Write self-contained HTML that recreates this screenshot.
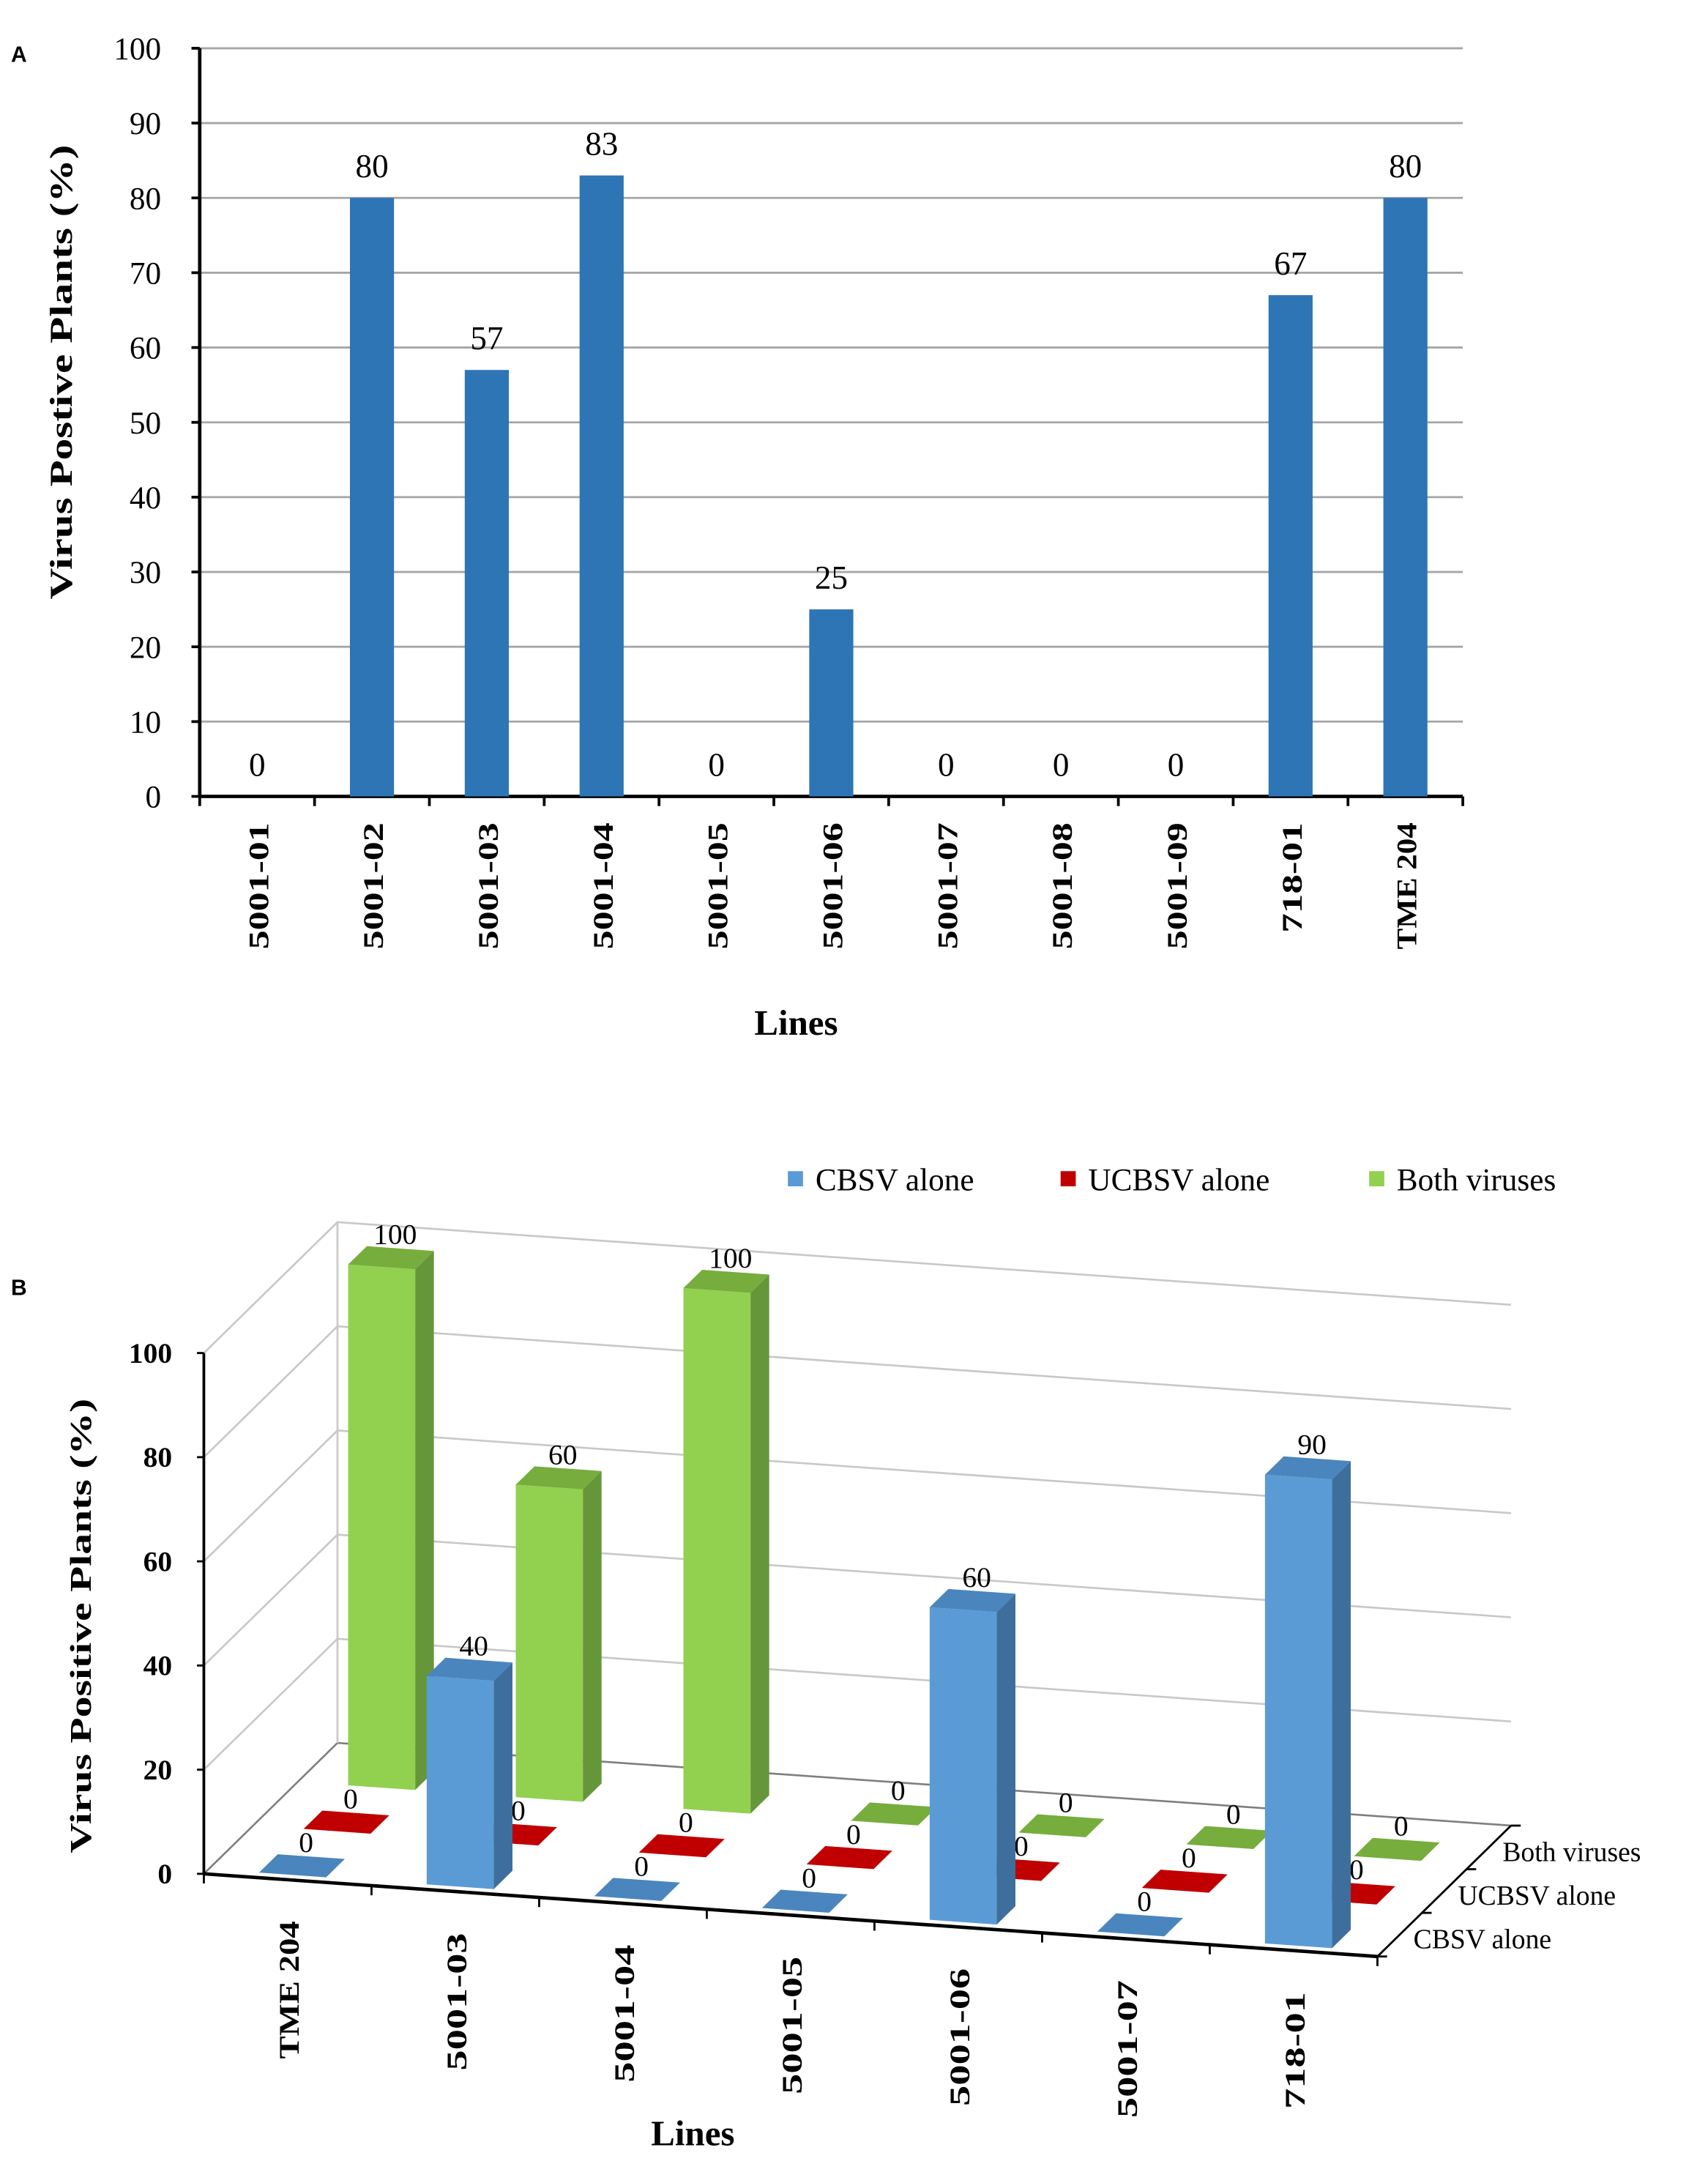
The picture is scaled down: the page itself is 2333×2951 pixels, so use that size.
<!DOCTYPE html>
<html><head><meta charset="utf-8"><style>
html,body{margin:0;padding:0;background:#fff;}
svg{display:block;}
text{font-family:"Liberation Serif",serif;}
text.sans{font-family:"Liberation Sans",sans-serif;}
</style></head><body>
<svg id="fig" width="2333" height="2951" viewBox="0 0 1240 1568.4" xmlns="http://www.w3.org/2000/svg">
<g id="chartA"></g>
<g id="chartB"></g>
</svg>
<script>
const aCategories = ["5001-01","5001-02","5001-03","5001-04","5001-05","5001-06","5001-07","5001-08","5001-09","718-01","TME 204"];
const aValues = [0,80,57,83,0,25,0,0,0,67,80];
const aTicks = [0,10,20,30,40,50,60,70,80,90,100];

const bCategories = ["TME 204","5001-03","5001-04","5001-05","5001-06","5001-07","718-01"];
const bCBSV = [0,40,0,0,60,0,90];
const bUCBSV = [0,0,0,0,0,0,0];
const bBoth = [100,60,100,0,0,0,0];
const bSeriesNames = ["CBSV alone","UCBSV alone","Both viruses"];
const bTicks = [0,20,40,60,80,100];

const NS="http://www.w3.org/2000/svg";
function mk(parent,tag,attrs,txt){const e=document.createElementNS(NS,tag);for(const k in attrs)e.setAttribute(k,attrs[k]);if(txt!==undefined)e.textContent=txt;parent.appendChild(e);return e;}

// ---------- Chart A ----------
(function(){
const g=document.getElementById('chartA');
const L=145,R=1062,T=35,B=578;
const yA=v=>B-(v/100)*(B-T);
const cw=(R-L)/aCategories.length;
const xA=i=>L+cw*(i+0.5);
let t=mk(g,'text',{x:8,y:45,'class':'sans','font-size':16,'font-weight':'bold'},'A');

aTicks.forEach(v=>{
 const l=mk(g,'line',{x1:L,x2:R,y1:yA(v),y2:yA(v),stroke:v===0?'#000':'#a6a6a6','stroke-width':v===0?2.5:1.5});
 
 const tk=mk(g,'line',{x1:L-6,x2:L,y1:yA(v),y2:yA(v),stroke:'#000','stroke-width':2});
 
 const lb=mk(g,'text',{x:117,y:yA(v)+8,'text-anchor':'end','font-size':23},String(v));
 
});
const ax=mk(g,'line',{x1:L,x2:L,y1:T,y2:B,stroke:'#000','stroke-width':2.5});

for(let i=0;i<=aCategories.length;i++){
 const tk=mk(g,'line',{x1:L+cw*i,x2:L+cw*i,y1:B,y2:B+7,stroke:'#000','stroke-width':2});
 
}
aCategories.forEach((c,i)=>{
 const v=aValues[i];
 if(v>0){const r=mk(g,'rect',{x:xA(i)-16,y:yA(v),width:32,height:B-yA(v),fill:'#2e75b6'});
 }
 const vl=mk(g,'text',{x:xA(i),y:yA(v)-15,'text-anchor':'middle','font-size':24},String(v));
 
 const len=c.length===7?92:(c.length===6?80:110);
 const xl=mk(g,'text',{transform:`translate(${xA(i)+8},597) rotate(-90)`,'text-anchor':'end','font-size':21,'font-weight':'bold',textLength:len,lengthAdjust:'spacingAndGlyphs'},c);
 
});
const yt=mk(g,'text',{transform:'translate(52,270) rotate(-90)','text-anchor':'middle','font-size':23,'font-weight':'bold',textLength:330,lengthAdjust:'spacingAndGlyphs'},'Virus Postive Plants (%)');

const xt=mk(g,'text',{x:578,y:751,'text-anchor':'middle','font-size':26,'font-weight':'bold'},'Lines');

})();

// ---------- Chart B (3D) ----------
(function(){
const g=document.getElementById('chartB');
const O=[148,1360];
const FX=[852,60];
const D=[97,-95];
const VS=3.78;
const n=bCategories.length;
const P=(u,d,v)=>[O[0]+FX[0]*u+D[0]*d, O[1]+FX[1]*u+D[1]*d-v*VS];
const pts=a=>a.map(p=>p.join(',')).join(' ');
let t=mk(g,'text',{x:8,y:940,'class':'sans','font-size':16,'font-weight':'bold'},'B');

bTicks.forEach(v=>{
 const a=P(0,0,v),b=P(0,1,v),c=P(1,1,v);
 const l=mk(g,'polyline',{points:pts([a,b,c]),fill:'none',stroke:v===0?'#7f7f7f':'#c8c8c8','stroke-width':1.4});
 
 const lb=mk(g,'text',{x:125,y:a[1]+7,'text-anchor':'end','font-size':21,'font-weight':'bold'},String(v));
 
 const tk=mk(g,'line',{x1:a[0]-5,x2:a[0],y1:a[1],y2:a[1],stroke:'#000','stroke-width':1.5});
 
});
let e=mk(g,'line',{x1:P(0,1,0)[0],y1:P(0,1,0)[1],x2:P(0,1,100)[0],y2:P(0,1,100)[1],stroke:'#c8c8c8','stroke-width':1.4});

e=mk(g,'line',{x1:O[0],y1:O[1],x2:O[0],y2:O[1]-100*VS,stroke:'#000','stroke-width':2});

e=mk(g,'line',{x1:O[0],y1:O[1],x2:P(1,0,0)[0],y2:P(1,0,0)[1],stroke:'#000','stroke-width':2.5});

e=mk(g,'line',{x1:P(1,0,0)[0],y1:P(1,0,0)[1],x2:P(1,1,0)[0],y2:P(1,1,0)[1],stroke:'#000','stroke-width':1.5});

for(let i=0;i<=n;i++){const p=P(i/n,0,0);
 const tk=mk(g,'line',{x1:p[0],y1:p[1],x2:p[0],y2:p[1]+7,stroke:'#000','stroke-width':1.5});
 }
for(let s=0;s<=3;s++){const p=P(1,s/3,0);
 const tk=mk(g,'line',{x1:p[0],y1:p[1],x2:p[0]+7,y2:p[1],stroke:'#000','stroke-width':1.5});
 }
const series=[bCBSV,bUCBSV,bBoth];
const cols=[{f:'#5b9bd5',s:'#3e6f9c',t:'#4a86bd'},{f:'#c00000',s:'#8b0000',t:'#c00000'},{f:'#92d050',s:'#66963a',t:'#76ad3d'}];
const bw=0.4/n, bd=0.14;
for(let s=2;s>=0;s--){
 for(let i=n-1;i>=0;i--){
  const v=series[s][i], c=cols[s];
  const u0=(i+0.5)/n-bw/2, u1=u0+bw, d0=(s+0.5)/3-bd/2-0.06, d1=d0+bd;
  const grp=mk(g,'g',{});
  
  
  if(v>0){
   mk(grp,'polygon',{points:pts([P(u1,d0,0),P(u1,d1,0),P(u1,d1,v),P(u1,d0,v)]),fill:c.s});
   mk(grp,'polygon',{points:pts([P(u0,d0,0),P(u1,d0,0),P(u1,d0,v),P(u0,d0,v)]),fill:c.f});
  }
  mk(grp,'polygon',{points:pts([P(u0,d0,v),P(u1,d0,v),P(u1,d1,v),P(u0,d1,v)]),fill:c.t});
  const lp=P((u0+u1)/2,(d0+d1)/2,v);
  const lb=mk(g,'text',{x:lp[0]+3,y:lp[1]-10,'text-anchor':'middle','font-size':21},String(v));
  
 }
}
bCategories.forEach((c,i)=>{
 const p=P((i+0.5)/n,0,0);
 const len=c.length===7?100:(c.length===6?85:105);
 const xl=mk(g,'text',{transform:`translate(${p[0]+8},${p[1]+30}) rotate(-90)`,'text-anchor':'end','font-size':21,'font-weight':'bold',textLength:len,lengthAdjust:'spacingAndGlyphs'},c);
 
});
bSeriesNames.forEach((nm,s)=>{
 const p=P(1,(s+0.5)/3,0);
 const lb=mk(g,'text',{x:p[0]+10,y:p[1]+10,'font-size':20},nm);
 
});
const lx=[572,770,994];
bSeriesNames.forEach((nm,s)=>{
 const r=mk(g,'rect',{x:lx[s],y:850,width:11,height:11,fill:cols[s].f});
 
 const lb=mk(g,'text',{x:lx[s]+20,y:864,'font-size':23},nm);
 
});
const yt=mk(g,'text',{transform:'translate(66,1180) rotate(-90)','text-anchor':'middle','font-size':22,'font-weight':'bold',textLength:330,lengthAdjust:'spacingAndGlyphs'},'Virus Positive Plants (%)');

const xt=mk(g,'text',{x:503,y:1557,'text-anchor':'middle','font-size':26,'font-weight':'bold'},'Lines');

})();
</script>
</body></html>
